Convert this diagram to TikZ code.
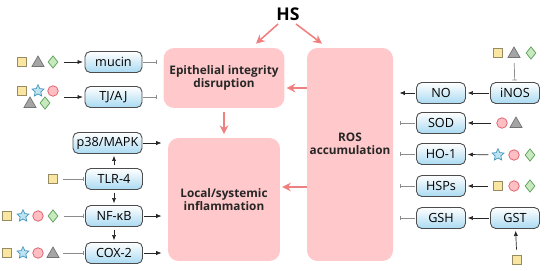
\documentclass[tikz,border=0pt]{standalone}
\usepackage{fontspec}
\setmainfont{Open Sans}
\usetikzlibrary{arrows.meta,shapes.geometric}
\definecolor{hsred}{RGB}{240,128,128}
\definecolor{boxpink}{RGB}{255,200,202}
\definecolor{nodeblue}{RGB}{170,218,242}
\definecolor{shyellow}{RGB}{250,230,160}
\definecolor{shyellowb}{RGB}{150,140,100}
\definecolor{shgray}{RGB}{165,165,165}
\definecolor{shgreen}{RGB}{200,232,190}
\definecolor{shgreenb}{RGB}{90,160,90}
\definecolor{shblue}{RGB}{190,228,242}
\definecolor{shblueb}{RGB}{70,150,190}
\definecolor{shpink}{RGB}{255,190,196}
\definecolor{shpinkb}{RGB}{220,90,100}
\tikzset{
  hs/.style={font=\fontsize{10}{12}\selectfont\bfseries,inner sep=1pt},
  effect/.style={fill=boxpink,rounded corners=6pt,align=center,text=black!85,
        font=\fontsize{6.7}{7.2}\selectfont\bfseries},
  factor/.style={draw=black!70,line width=0.5pt,rounded corners=3pt,
        top color=white,bottom color=nodeblue,minimum width=1.14cm,
        minimum height=0.42cm,inner sep=1pt,font=\fontsize{7.2}{8}\selectfont},
  sq/.style={draw=shyellowb,fill=shyellow,line width=0.4pt,minimum size=0.19cm,inner sep=0pt},
  tri/.style={regular polygon,regular polygon sides=3,draw=black!55,fill=shgray,
        line width=0.4pt,minimum size=0.28cm,inner sep=0pt},
  dia/.style={diamond,draw=shgreenb,fill=shgreen,line width=0.4pt,
        minimum width=0.2cm,minimum height=0.25cm,inner sep=0pt},
  cir/.style={circle,draw=shpinkb,fill=shpink,line width=0.4pt,minimum size=0.21cm,inner sep=0pt},
  str/.style={star,star points=5,star point ratio=2.1,draw=shblueb,fill=shblue,
        line width=0.4pt,minimum size=0.25cm,inner sep=0pt},
  hsarrow/.style={draw=hsred,line width=0.9pt,-{Stealth[length=5pt,width=5pt]}},
  act/.style={draw=black!85,line width=0.4pt,-{Latex[length=3pt,width=2.4pt]},
        shorten <=3pt,shorten >=1pt},
  inh/.style={draw=black!45,line width=0.4pt,-{Bar[width=2.6pt]},
        shorten <=3pt,shorten >=1pt},
  topink/.style={shorten <=0.5pt,shorten >=3.5pt}
}
\begin{document}
\begin{tikzpicture}[x=0.02cm,y=-0.02cm]
  \useasboundingbox (0,0) rectangle (550,270);
  %% Central boxes
  \node[hs] (hs) at (288,14) {HS};
  \node[effect,minimum width=2.24cm,minimum height=1.2cm] (epi) at (224,78)
        {Epithelial integrity\\disruption};
  \node[effect,minimum width=2.24cm,minimum height=2.46cm] (local) at (224,199.5)
        {Local/systemic\\inflammation};
  \node[effect,minimum width=1.72cm,minimum height=4.26cm,
        label={[effect,fill=none,yshift=0.22cm]center:{ROS\\accumulation}}] (ros) at (350,154.5) {};
  %% Left factors
  \node[factor] (mucin) at (113.5,62) {mucin};
  \node[factor] (tjaj) at (113.5,97) {TJ/AJ};
  \node[factor,minimum width=1.38cm] (p38) at (107.5,143) {p38/MAPK};
  \node[factor] (tlr) at (114,179) {TLR-4};
  \node[factor] (nfkb) at (114,216) {NF-κB};
  \node[factor] (cox) at (114,253) {COX-2};
  %% Right factors
  \node[factor,minimum width=0.98cm] (no) at (441,93) {NO};
  \node[factor,minimum width=0.98cm] (inos) at (515,93) {iNOS};
  \node[factor,minimum width=0.98cm] (sod) at (441,123) {SOD};
  \node[factor,minimum width=0.98cm] (ho) at (441,154) {HO-1};
  \node[factor,minimum width=0.98cm] (hsp) at (441,186) {HSPs};
  \node[factor,minimum width=0.98cm] (gsh) at (441,218) {GSH};
  \node[factor,minimum width=0.98cm] (gst) at (515,218) {GST};
  %% Left symbols
  \node[sq] (m1) at (22,62) {};
  \node[tri] (m2) at (38,63) {};
  \node[dia] (m3) at (53,62) {};
  \node[sq] (t1) at (22,91) {};
  \node[str] (t2) at (38,91) {};
  \node[cir] (t3) at (53,91) {};
  \node[tri] (t4) at (30,104) {};
  \node[dia] (t5) at (45,103) {};
  \node[sq] (l1) at (53,179) {};
  \node[sq] (n1) at (7,216) {};
  \node[str] (n2) at (23,216) {};
  \node[cir] (n3) at (38,216) {};
  \node[dia] (n4) at (53,216) {};
  \node[sq] (c1) at (7,253) {};
  \node[str] (c2) at (23,253) {};
  \node[cir] (c3) at (38,253) {};
  \node[tri] (c4) at (53,254) {};
  %% Right symbols
  \node[sq] (i1) at (498,53) {};
  \node[tri] (i2) at (514,54) {};
  \node[dia] (i3) at (531,53) {};
  \node[cir] (s1) at (502,123) {};
  \node[tri] (s2) at (516,124) {};
  \node[str] (h1) at (498,155) {};
  \node[cir] (h2) at (514,155) {};
  \node[dia] (h3) at (530,155) {};
  \node[sq] (p1) at (498,186) {};
  \node[cir] (p2) at (514,186) {};
  \node[dia] (p3) at (530,186) {};
  \node[sq] (g1) at (517,260) {};
  %% HS and effect arrows
  \draw[hsarrow] ([xshift=-0.2cm,yshift=-0.2cm]hs.center) -- ([xshift=0.64cm,yshift=0.08cm]epi.north);
  \draw[hsarrow] ([xshift=0.16cm,yshift=-0.2cm]hs.center) -- ([xshift=-0.56cm,yshift=0.08cm]ros.north);
  \draw[hsarrow,shorten >=1pt] (ros.west |- 0,88) -- (epi.east |- 0,88);
  \draw[hsarrow,shorten <=2pt,shorten >=2pt] (epi) -- (local);
  \draw[hsarrow,shorten >=1pt] (ros.west |- 0,187) -- (local.east |- 0,187);
  %% Left connectors
  \draw[act] (m3) -- (mucin);
  \draw[act] (t3.east |- tjaj) -- (tjaj);
  \draw[inh] (l1) -- (tlr);
  \draw[inh] (n4) -- (nfkb);
  \draw[inh] (c4.east |- cox) -- (cox);
  \draw[inh,topink] (mucin) -- (epi.west |- mucin);
  \draw[inh,topink] (tjaj) -- (epi.west |- tjaj);
  \draw[act,topink] (p38) -- (local.west |- p38);
  \draw[act,topink] (nfkb) -- (local.west |- nfkb);
  \draw[act,topink] (cox) -- (local.west |- cox);
  \draw[act,shorten <=1.5pt] (tlr.north) -- (tlr.north |- p38.south);
  \draw[act,shorten <=1.5pt] (tlr) -- (nfkb);
  \draw[act,shorten <=1.5pt] (nfkb) -- (cox);
  %% Right connectors
  \draw[act,topink] (no) -- (ros.east |- no);
  \draw[inh,topink] (sod) -- (ros.east |- sod);
  \draw[inh,topink] (ho) -- (ros.east |- ho);
  \draw[inh,topink] (hsp) -- (ros.east |- hsp);
  \draw[inh,topink] (gsh) -- (ros.east |- gsh);
  \draw[act,shorten <=0.5pt] (inos) -- (no);
  \draw[act,shorten <=0.5pt] (gst) -- (gsh);
  \draw[inh] (i2) -- (inos);
  \draw[act] (s1) -- (sod);
  \draw[act] (h1) -- (ho);
  \draw[act] (p1) -- (hsp);
  \draw[act] (g1) -- (gst);
\end{tikzpicture}
\end{document}
